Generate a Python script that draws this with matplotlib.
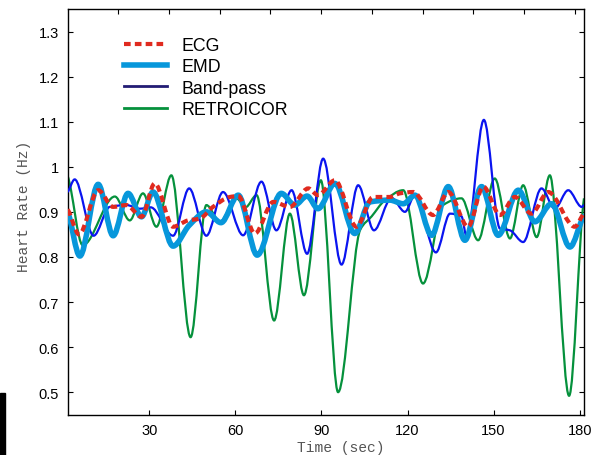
import matplotlib
matplotlib.use("Agg")
import matplotlib.pyplot as plt
from matplotlib.path import Path
from matplotlib.patches import PathPatch, Rectangle
from matplotlib.lines import Line2D

# ---------------- data ----------------
ecg_t = [1.5, 5.5, 12.2, 17.4, 22.0, 27.3, 31.9, 38.3, 43.5, 47.6, 52.2, 58.1, 61.0, 66.8, 73.2, 79.0,
         85.4, 88.8, 94.7, 102.2, 108.0, 113.8, 117.3, 122.0, 128.9, 134.2, 141.1, 146.4, 152.2,
         157.4, 163.2, 169.0, 178.3, 181.5]
ecg_v = [0.905, 0.85, 0.948, 0.911, 0.915, 0.889, 0.963, 0.867, 0.881, 0.885, 0.911, 0.933, 0.935,
         0.852, 0.922, 0.911, 0.952, 0.937, 0.970, 0.867, 0.933, 0.933, 0.941, 0.944, 0.893, 0.944,
         0.867, 0.956, 0.893, 0.933, 0.896, 0.944, 0.867, 0.896]

emd_t = [1.5, 5.8, 12.2, 17.4, 22.6, 27.3, 31.3, 38.3, 43.9, 49.9, 55.0, 61.0, 67.6, 76.0, 80.7,
         85.0, 88.8, 94.7, 101.6, 106.9, 113.8, 118.5, 122.6, 128.4, 134.2, 140.0, 145.8, 151.6,
         158.6, 164.4, 170.2, 176.6, 181.5]
emd_v = [0.90, 0.802, 0.961, 0.847, 0.941, 0.889, 0.944, 0.824, 0.87, 0.90, 0.876, 0.937, 0.804,
         0.941, 0.915, 0.935, 0.907, 0.963, 0.852, 0.922, 0.926, 0.918, 0.937, 0.848, 0.956, 0.837,
         0.956, 0.848, 0.948, 0.878, 0.918, 0.822, 0.89]

bp_t = [1.5, 4.0, 10.6, 16.2, 22.1, 26.7, 30.5, 38.3, 43.9, 49.9, 55.7, 62.7, 69.1, 74.3, 79.6,
        85.0, 90.6, 97.0, 102.8, 108.3, 114.4, 119.1, 122.6, 129.9, 134.8, 138.8, 140.6, 146.6,
        152.2, 155.7, 160.3, 166.7, 171.3, 176.0, 180.7, 181.5]
bp_v = [0.944, 0.972, 0.847, 0.911, 0.915, 0.907, 0.91, 0.847, 0.952, 0.847, 0.944, 0.848, 0.967,
        0.859, 0.948, 0.807, 1.018, 0.783, 0.959, 0.859, 0.931, 0.90, 0.937, 0.81, 0.896, 0.89,
        0.845, 1.104, 0.863, 0.859, 0.833, 0.952, 0.907, 0.948, 0.911, 0.915]

ret_t = [1.5, 6.8, 18.0, 23.2, 27.8, 32.5, 37.7, 44.4, 49.9, 54.6, 60.4, 63.5, 67.4, 73.5, 79.0,
         83.9, 89.8, 95.8, 103.5, 107.5, 112.0, 118.5, 125.4, 132.4, 138.8, 144.6, 150.4, 155.7,
         160.3, 165.0, 169.6, 176.3, 181.5]
ret_v = [0.98, 0.826, 0.934, 0.881, 0.941, 0.867, 0.981, 0.622, 0.915, 0.878, 0.93, 0.91, 0.937,
         0.659, 0.896, 0.715, 0.970, 0.50, 0.86, 0.89, 0.925, 0.948, 0.741, 0.915, 0.93, 0.837,
         0.974, 0.841, 0.959, 0.844, 0.981, 0.492, 0.93]

labels = ["ECG", "EMD", "Band-pass", "RETROICOR"]
xticks = [30, 60, 90, 120, 150, 180]
yticks = [0.5, 0.6, 0.7, 0.8, 0.9, 1.0, 1.1, 1.2, 1.3]
ytick_labels = ["0.5", "0.6", "0.7", "0.8", "0.9", "1", "1.1", "1.2", "1.3"]


def smooth_path(t, v):
    """Smooth (monotone cubic) Bezier path through the read points."""
    n = len(t)
    m = []
    for i in range(n):
        if i == 0:
            m.append((v[1] - v[0]) / (t[1] - t[0]) * 0.5)
        elif i == n - 1:
            m.append((v[-1] - v[-2]) / (t[-1] - t[-2]) * 0.5)
        else:
            d0 = (v[i] - v[i - 1]) / (t[i] - t[i - 1])
            d1 = (v[i + 1] - v[i]) / (t[i + 1] - t[i])
            if d0 * d1 <= 0:
                m.append(0.0)
            else:
                m.append(2 * d0 * d1 / (d0 + d1))
    verts = [(t[0], v[0])]
    codes = [Path.MOVETO]
    for i in range(n - 1):
        h = t[i + 1] - t[i]
        verts += [(t[i] + h / 3, v[i] + m[i] * h / 3),
                  (t[i + 1] - h / 3, v[i + 1] - m[i + 1] * h / 3),
                  (t[i + 1], v[i + 1])]
        codes += [Path.CURVE4] * 3
    return Path(verts, codes)


plt.rcParams['font.family'] = ['Liberation Sans', 'DejaVu Sans']

fig = plt.figure(figsize=(5.97, 4.56), dpi=100)
ax = fig.add_axes([67.5 / 597, 1 - 415.7 / 456, (584 - 67.5) / 597, (415.7 - 10) / 456])

c_ecg = '#e02a1f'
c_emd = '#0797db'
c_bp = '#0a14f0'
c_bp_leg = '#221c74'
c_ret = '#05913c'

ax.add_patch(PathPatch(smooth_path(ret_t, ret_v), fill=False, ec=c_ret, lw=1.6, zorder=2))
ax.add_patch(PathPatch(smooth_path(bp_t, bp_v), fill=False, ec=c_bp, lw=1.6, zorder=3))
ax.add_patch(PathPatch(smooth_path(emd_t, emd_v), fill=False, ec=c_emd, lw=4.0, zorder=4,
                       capstyle='round', joinstyle='round'))
ax.add_patch(PathPatch(smooth_path(ecg_t, ecg_v), fill=False, ec=c_ecg, lw=3.0, zorder=5,
                       linestyle=(0, (1.6, 1.0)), capstyle='butt'))

ax.set_xlim(1.5, 181.5)
ax.set_ylim(0.45, 1.35)
ax.set_xticks(xticks)
ax.set_xticklabels([str(x) for x in xticks])
ax.set_yticks(yticks)
ax.set_yticklabels(ytick_labels)
ax.tick_params(axis='both', direction='in', length=3.5, width=0.8, labelsize=10.5,
               colors='black', pad=6)
ax.tick_params(axis='y', right=True, left=True)
ax.tick_params(axis='x', top=False)
for s in ax.spines.values():
    s.set_linewidth(1.0)
    s.set_color('black')

# unlabeled top ticks
ax2 = ax.twiny()
ax2.set_xlim(0, 1.018)
ax2.set_xticks([0.1, 0.2, 0.3, 0.4, 0.5, 0.6, 0.7, 0.8, 0.9, 1.0])
ax2.tick_params(axis='x', direction='in', length=3.5, width=0.8, labeltop=False)
ax2.patch.set_visible(False)
for s in ax2.spines.values():
    s.set_visible(False)

mono = ['Liberation Mono', 'DejaVu Sans Mono']
ax.set_xlabel('Time (sec)', family=mono, fontsize=10.5, color='#555555')
ax.xaxis.set_label_coords((341 - 67.5) / 516.5, -0.062)
ax.set_ylabel('Heart Rate (Hz)', family=mono, fontsize=10.5, color='#555555')
ax.yaxis.set_label_coords((31.5 - 67.5) / 516.5, 0.515)

handles = [Line2D([], [], color=c_ecg, lw=3.0, linestyle=(0, (1.6, 1.0)), solid_capstyle='butt'),
           Line2D([], [], color=c_emd, lw=4.0),
           Line2D([], [], color=c_bp_leg, lw=2.0),
           Line2D([], [], color=c_ret, lw=2.0)]
ax.legend(handles, labels, loc='upper left', bbox_to_anchor=((124 - 67.5) / 516.5, (415.7 - 38) / 405.7),
          frameon=False, fontsize=12.8, handlelength=2.4, handletextpad=0.85,
          labelspacing=0.24, borderaxespad=0, borderpad=0)

fig.patches.append(Rectangle((0, 0), 5 / 597, 62 / 456, transform=fig.transFigure,
                             color='black', zorder=10))

fig.savefig('out.png', dpi=100)
